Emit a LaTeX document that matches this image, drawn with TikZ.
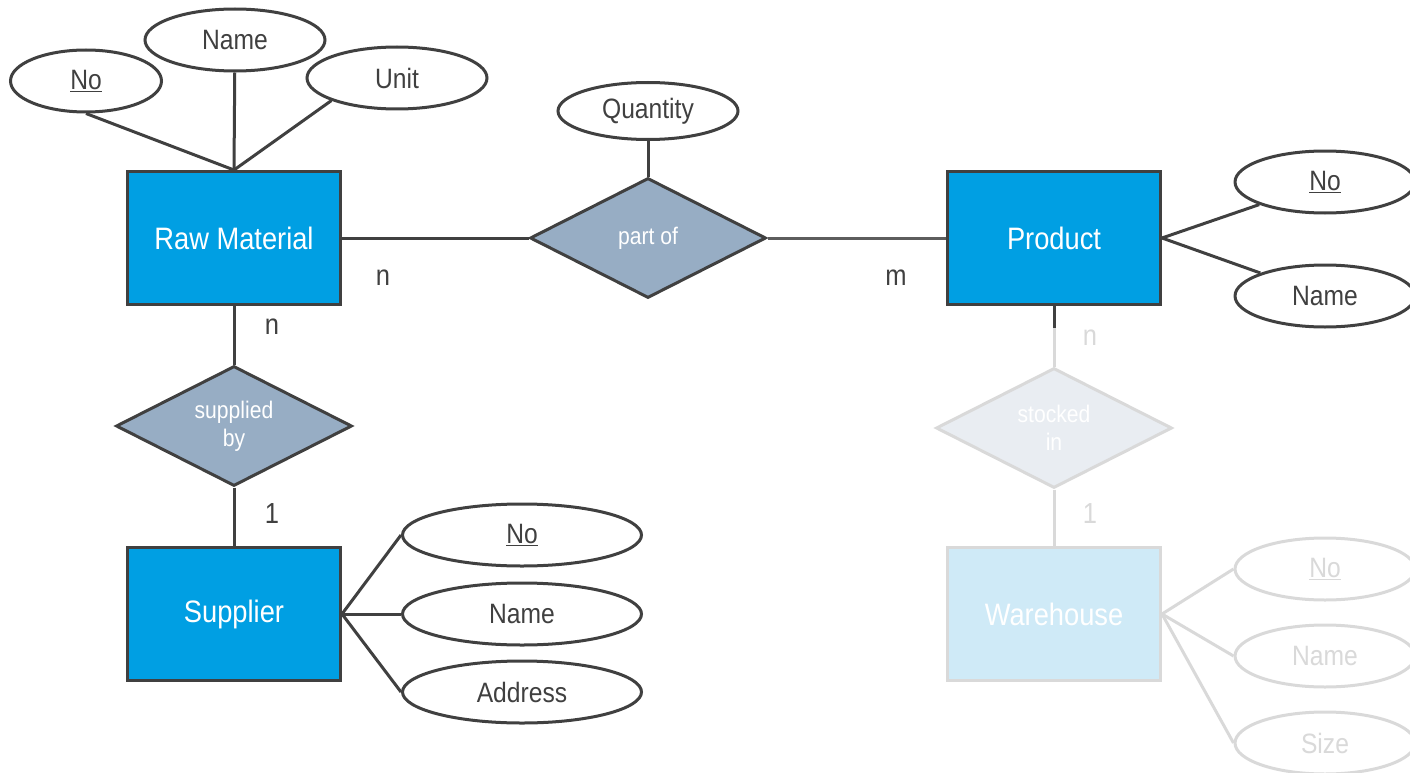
\documentclass[tikz,border=0pt]{standalone}
\usepackage{fontspec}
\setmainfont{Liberation Sans}[FakeStretch=0.88]
\usepackage{xcolor}
\usetikzlibrary{shapes.geometric, positioning}

\definecolor{entblue}{HTML}{009FE3}
\definecolor{relgrey}{HTML}{97ADC4}
\definecolor{darkline}{HTML}{404040}
\definecolor{fadeline}{HTML}{D9D9D9}
\definecolor{fadeblue}{HTML}{CFEAF7}
\definecolor{faderel}{HTML}{E9EDF2}

\begin{document}
\begin{tikzpicture}[
    x=1pt, y=-1pt,
    line width=3pt,
    entity/.style={rectangle, draw=darkline, fill=entblue, text=white, minimum width=213pt, minimum height=133pt, inner sep=0pt, font=\fontsize{31}{36}\selectfont},
    relation/.style={diamond, draw=darkline, fill=relgrey, text=white, aspect=2, minimum width=236pt, minimum height=120pt, inner sep=0pt, align=center, font=\fontsize{24}{28}\selectfont},
    attrib/.style={ellipse, draw=darkline, fill=white, text=darkline, minimum width=180pt, minimum height=62pt, inner sep=0pt, font=\fontsize{28}{32}\selectfont},
    card/.style={inner sep=0pt, text=darkline, font=\fontsize{29}{32}\selectfont},
    link/.style={draw=darkline},
    faded/.style={draw=fadeline},
    fadedentity/.style={entity, draw=fadeline, fill=fadeblue},
    fadedrelation/.style={relation, draw=fadeline, fill=faderel},
    fadedattrib/.style={attrib, draw=fadeline, text=fadeline},
    fadedcard/.style={card, text=fadeline}
]
\useasboundingbox (0,0) rectangle (1410,773);

% Entities
\node[entity] (raw) at (234,238) {Raw Material};
\node[entity] (product) at (1054,238) {Product};
\node[entity] (supplier) at (234,614) {Supplier};
\node[fadedentity] (warehouse) at (1054,614) {Warehouse};

% Relations
\node[relation] (partof) at (648,238) {part of};
\node[relation] (supplied) at (234,426) {supplied\\by};
\node[fadedrelation] (stocked) at (1054,428) {stocked\\in};

% Attributes
\node[attrib, minimum width=151pt] (rno) at (86,81) {\underline{No}};
\node[attrib] (rname) at (235,40) {Name};
\node[attrib] (runit) at (397,78) {Unit};
\node[attrib, minimum height=57pt] (qty) at (648,111) {Quantity};
\node[attrib] (pno) at (1325,182) {\underline{No}};
\node[attrib] (pname) at (1325,296) {Name};
\node[attrib, minimum width=239pt] (sno) at (522,535) {\underline{No}};
\node[attrib, minimum width=239pt] (sname) at (522,614) {Name};
\node[attrib, minimum width=239pt] (saddr) at (522,692) {Address};
\node[fadedattrib] (wno) at (1325,569) {\underline{No}};
\node[fadedattrib] (wname) at (1325,656) {Name};
\node[fadedattrib] (wsize) at (1325,743) {Size};

% Raw material links
\draw[link] (rno.south) -- (raw.north);
\draw[link] (rname) -- (raw.north);
\draw[link] (runit.199) -- (raw.north);
\draw[link] (raw) -- node[card, pos=0.22, yshift=-40pt] (c1) {n} (partof);
\draw[link] (raw) -- node[card, pos=0.35, xshift=38pt] (c2) {n} (supplied);

% Part of links
\draw[link] (qty) -- (partof);
\draw[draw=darkline!85] (partof) -- node[card, pos=0.72, yshift=-40pt] (c3) {m} (product);

% Product links
\draw[link] (product.east) -- (pno);
\draw[link] (product.east) -- (pname);

% Supplier links
\draw[link] (supplied) -- node[card, pos=0.44, xshift=38pt] (c4) {1} (supplier);
\draw[link] (supplier.east) -- (sno.west);
\draw[link] (supplier.east) -- (sname.west);
\draw[link] (supplier.east) -- (saddr.west);

% Warehouse (faded)
\draw[faded] (product) -- node[fadedcard, pos=0.52, xshift=36pt] (c5) {n} (stocked);
\coordinate[below=22pt of product.south] (pstub);
\draw[link] (product.south) -- (pstub);
\draw[faded] (stocked) -- node[fadedcard, pos=0.42, xshift=36pt] (c6) {1} (warehouse);
\draw[faded] (warehouse.east) -- (wno.west);
\draw[faded] (warehouse.east) -- (wname.west);
\draw[faded] (warehouse.east) -- (wsize.west);

\end{tikzpicture}
\end{document}
